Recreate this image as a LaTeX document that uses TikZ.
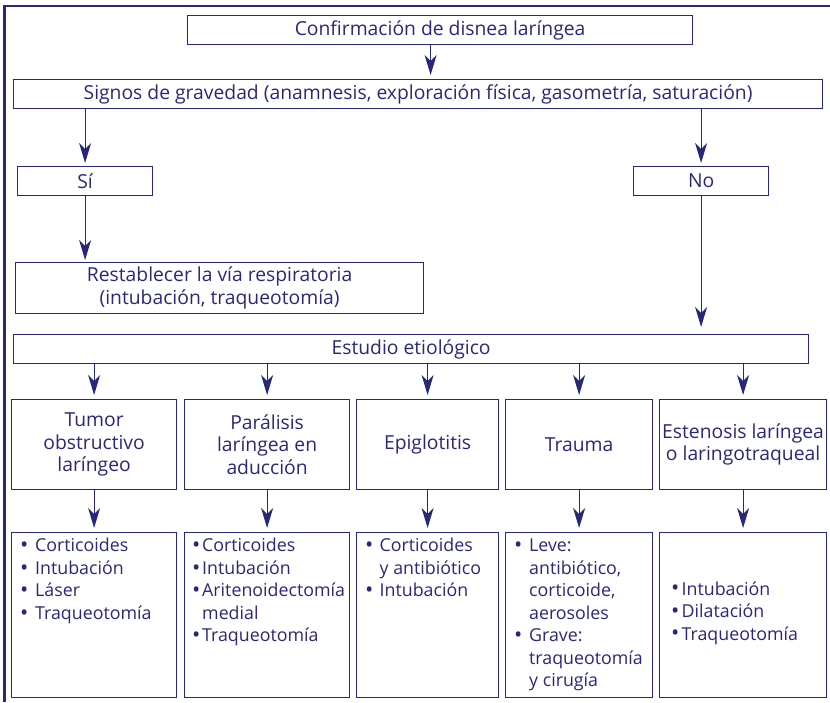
\documentclass[tikz,border=0pt]{standalone}
\usepackage{fontspec}
\setmainfont{Open Sans}
\usepackage{tikz}
\usetikzlibrary{arrows.meta,positioning}
\definecolor{navy}{RGB}{40,40,122}

\newcommand{\bu}{\raisebox{-0.8pt}{\fontsize{22}{22}\selectfont\textbullet}}
\newcommand{\tlist}[2]{\begin{tabular}{@{}p{#1}@{}l@{}}#2\end{tabular}}

\begin{document}
\begin{tikzpicture}[
  x=1pt, y=-1pt,
  every node/.style={text=navy, font=\fontsize{19.3}{22.4}\selectfont, inner sep=0pt},
  box/.style={draw=navy, line width=1.2pt, anchor=north west, align=center},
  cat/.style={box, minimum height=90pt},
  trt/.style={draw=navy, line width=1.2pt, anchor=north west, minimum height=165pt},
  lst/.style={anchor=north west, align=left, font=\fontsize{17.8}{22.5}\selectfont},
  arr/.style={-{Stealth[length=20pt, width=12pt, inset=6pt]}, line width=1.2pt, navy, shorten >=4pt}
]
\useasboundingbox (0,0) rectangle (830,702);
% frame
\draw[navy, line width=3pt] (4.5,702) -- (4.5,4.5);
\draw[navy, line width=2pt] (3,5.5) -- (830,5.5);

\node[box, minimum width=505pt, minimum height=29pt] (conf) at (187,15) {Confirmación de disnea laríngea};
\node[box, minimum width=809pt, minimum height=29pt] (sig) at (13,79)
  {Signos de gravedad (anamnesis, exploración física, gasometría, saturación)};
\node[box, minimum width=135pt, minimum height=29pt] (si) at (17,166) {Sí};
\node[box, minimum width=135pt, minimum height=29pt] (no) at (633,166) {No};
\node[box, minimum width=408pt, minimum height=51pt] (rest) at (15,262)
  {Restablecer la vía respiratoria\\(intubación, traqueotomía)};
\node[box, minimum width=795pt, minimum height=29pt] (est) at (13,334) {Estudio etiológico};

% causes
\node[cat, minimum width=165pt] (c1) at (11,399) {Tumor\\obstructivo\\laríngeo};
\node[cat, minimum width=165pt] (c2) at (184,399) {Parálisis\\laríngea en\\aducción};
\node[cat, minimum width=142pt] (c3) at (356,399) {Epiglotitis};
\node[cat, minimum width=147pt] (c4) at (505,399) {Trauma};
\node[cat, minimum width=167pt] (c5) at (659,399) {Estenosis laríngea\\o laringotraqueal};

% treatments
\node[trt, minimum width=165pt] (t1) at (11,532) {};
\node[trt, minimum width=165pt] (t2) at (184,532) {};
\node[trt, minimum width=142pt] (t3) at (356,532) {};
\node[trt, minimum width=147pt] (t4) at (505,532) {};
\node[trt, minimum width=167pt] (t5) at (659,532) {};

\node[lst] (l1) at (20,536) {\tlist{15pt}{\bu & Corticoides\\ \bu & Intubación\\
  \bu & Láser\\ \bu & Traqueotomía}};
\node[lst] (l2) at (192,536) {\tlist{10pt}{\bu & Corticoides\\ \bu & Intubación\\
  \bu & Aritenoidectomía\\ & medial\\ \bu & Traqueotomía}};
\node[lst] (l3) at (365,536) {\tlist{14.5pt}{\bu & Corticoides\\ & y antibiótico\\
  \bu & Intubación}};
\node[lst] (l4) at (514,536) {\tlist{15pt}{\bu & Leve:\\ & antibiótico,\\ & corticoide,\\
  & aerosoles\\ \bu & Grave:\\ & traqueotomía\\ & y cirugía}};
\node[lst, anchor=west] (l5) at (671,613) {\tlist{10.5pt}{\bu & Intubación\\
  \bu & Dilatación\\ \bu & Traqueotomía}};

\draw[arr] ([xshift=-9.5pt]conf.south) -- ([xshift=-9.5pt]conf.south |- sig.north);
\draw[arr, shorten >=3pt] (si.north |- sig.south) -- (si);
\draw[arr, shorten >=3pt] (no.north |- sig.south) -- (no);
\draw[arr, shorten >=2pt] (si) -- (si.south |- rest.north);
\draw[arr, shorten >=7pt] (no) -- (no.south |- est.north);
\draw[arr] (est.south -| c1.north) -- (c1);
\draw[arr] (est.south -| c2.north) -- (c2);
\draw[arr] (est.south -| c3.north) -- (c3);
\draw[arr] (est.south -| c4.north) -- (c4);
\draw[arr] (est.south -| c5.north) -- (c5);
\draw[arr] (c1) -- (t1);
\draw[arr] (c2) -- (t2);
\draw[arr] (c3) -- (t3);
\draw[arr] (c4) -- (t4);
\draw[arr] (c5) -- (t5);
\end{tikzpicture}
\end{document}
